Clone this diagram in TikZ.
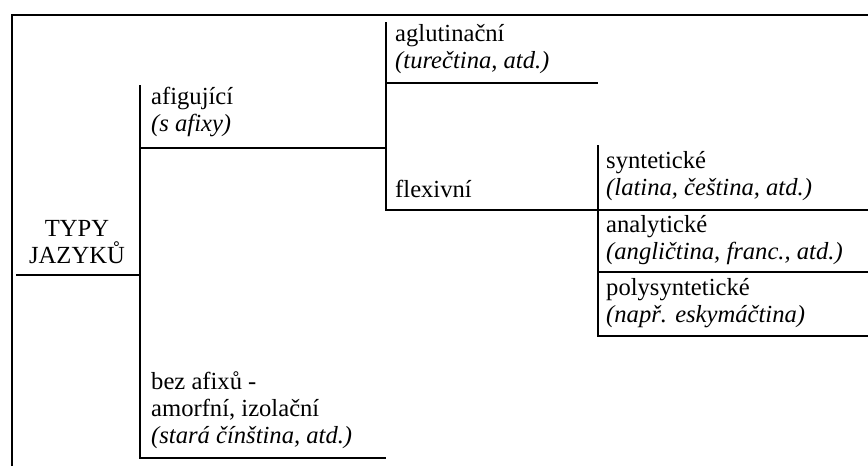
\documentclass[tikz,border=0pt]{standalone}
\usepackage{fontspec}
\setmainfont{Liberation Serif}

\begin{document}
\begin{tikzpicture}[
    x=0.03cm, y=-0.03cm,
    every node/.style={
        font=\fontsize{21}{23}\selectfont,
        inner sep=0pt,
    },
    branch/.style={line width=1.3pt},
    lbl/.style={anchor=base west, align=left},
]
    \useasboundingbox (0,0) rectangle (868,466);
    \coordinate (frame bl) at (12,466);
    \coordinate (frame tl) at (12,15);
    \coordinate (frame tr) at (868,15);
    \draw[line width=1.6pt] (frame bl) -- (frame tl) -- (frame tr);

    \coordinate (root w) at (16,275);
    \coordinate (root e) at (140,275);
    \coordinate (v1 top) at (140,85);
    \coordinate (v1 bot) at (140,458);
    \coordinate (afig w) at (140,148);
    \coordinate (afig e) at (386,148);
    \coordinate (bez e) at (386,458);
    \coordinate (v2 top) at (386,22);
    \coordinate (v2 bot) at (386,210);
    \coordinate (aglut w) at (386,83);
    \coordinate (aglut e) at (598,83);
    \coordinate (flex e) at (868,210);
    \coordinate (v3 top) at (598,145);
    \coordinate (v3 bot) at (598,336);
    \coordinate (v3 mid) at (598,272);
    \coordinate (analyt e) at (868,272);
    \coordinate (poly e) at (868,336);

    \draw[branch] (root w) -- (root e);
    \draw[branch] (v1 top) -- (v1 bot) -- (bez e);
    \draw[branch] (afig w) -- (afig e);
    \draw[branch] (v2 top) -- (v2 bot) -- (flex e);
    \draw[branch] (aglut w) -- (aglut e);
    \draw[branch] (v3 top) -- (v3 bot) -- (poly e);
    \draw[branch] (v3 mid) -- (analyt e);

    \node[anchor=base, align=center] (typy) at (77,263) {TYPY\\JAZYKŮ};
    \node[lbl] (afig) at (151,131) {afigující\\\textit{(s afixy)}};
    \node[lbl] (bez) at (151,443) {bez afixů -\\amorfní, izolační\\\textit{(stará čínština, atd.)}};
    \node[lbl] (aglut) at (395,68) {aglutinační\\\textit{(turečtina, atd.)}};
    \node[lbl] (flex) at (395,197) {flexivní};
    \node[lbl] (synt) at (606,195) {syntetické\\\textit{(latina, čeština, atd.)}};
    \node[lbl] (analyt) at (606,259) {analytické\\\textit{(angličtina, franc., atd.)}};
    \node[lbl] (poly) at (606,322) {polysyntetické\\\textit{(např. eskymáčtina)}};
\end{tikzpicture}
\end{document}
